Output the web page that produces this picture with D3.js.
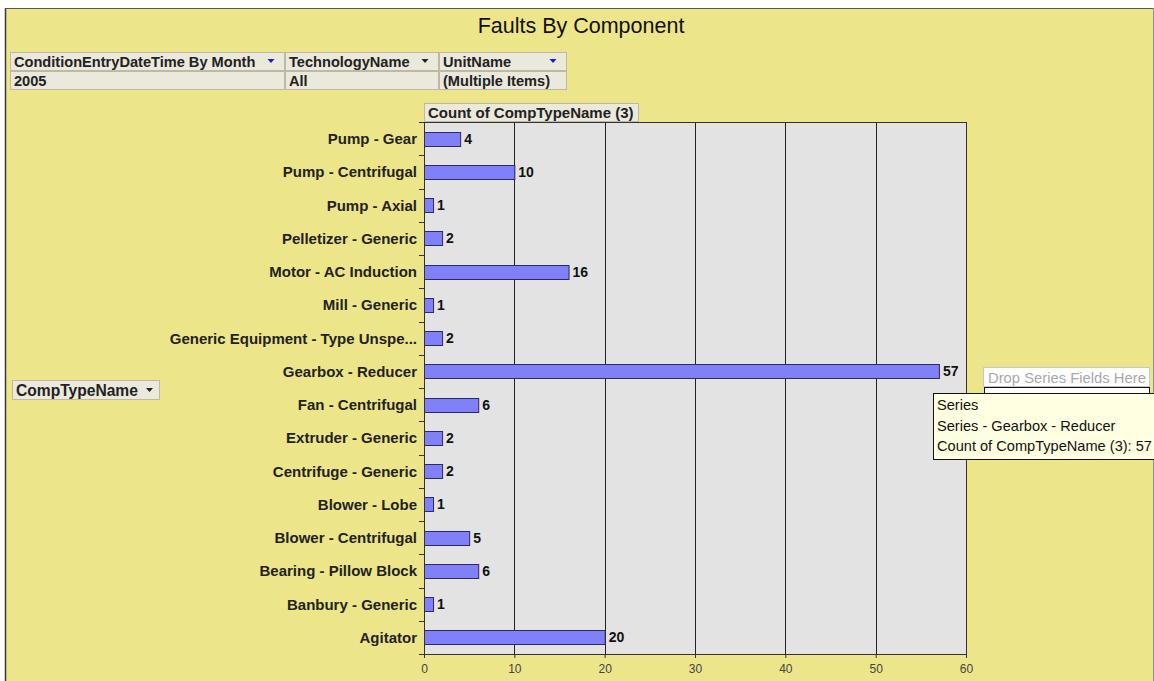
<!DOCTYPE html>
<html>
<head>
<meta charset="utf-8">
<script src="https://cdn.jsdelivr.net/npm/d3@7"></script>
<style>
  html, body { margin: 0; padding: 0; background: #ffffff; }
  svg { display: block; }
  text { font-family: "Liberation Sans", Arial, sans-serif; }
</style>
</head>
<body>
<svg id="chart" width="1154" height="681"></svg>
<script>
// Component categories (top to bottom) and their fault counts
const categories = [
  "Pump - Gear", "Pump - Centrifugal", "Pump - Axial", "Pelletizer - Generic",
  "Motor - AC Induction", "Mill - Generic", "Generic Equipment - Type Unspe...",
  "Gearbox - Reducer", "Fan - Centrifugal", "Extruder - Generic",
  "Centrifuge - Generic", "Blower - Lobe", "Blower - Centrifugal",
  "Bearing - Pillow Block", "Banbury - Generic", "Agitator"
];
const counts = [4, 10, 1, 2, 16, 1, 2, 57, 6, 2, 2, 1, 5, 6, 1, 20];
const xTicks = [0, 10, 20, 30, 40, 50, 60];

// Page filter fields
const filterFields = ["ConditionEntryDateTime By Month", "TechnologyName", "UnitName"];
const filterValues = ["2005", "All", "(Multiple Items)"];
const filterArrowColors = ["#1a1ad0", "#222222", "#1a1ad0"];

const tooltipLines = ["Series", "Series - Gearbox - Reducer", "Count of CompTypeName (3): 57"];

const svg = d3.select("#chart");
const W = 1154, H = 681;

// Panel background
svg.append("rect").attr("x", 0).attr("y", 0).attr("width", W).attr("height", H).attr("fill", "#ffffff");
svg.append("rect").attr("x", 6).attr("y", 8).attr("width", W - 7).attr("height", H - 8)
  .attr("fill", "#ede58a");
svg.append("line").attr("x1", 5.5).attr("x2", 5.5).attr("y1", 8).attr("y2", H)
  .attr("stroke", "#3a3a3a").attr("stroke-width", 1.5);
svg.append("line").attr("x1", 5).attr("x2", W).attr("y1", 8.5).attr("y2", 8.5)
  .attr("stroke", "#555555").attr("stroke-width", 1);
svg.append("line").attr("x1", W - 0.5).attr("x2", W - 0.5).attr("y1", 8).attr("y2", H)
  .attr("stroke", "#8a9a80").attr("stroke-width", 1);

// Title
svg.append("text").attr("x", 581).attr("y", 33).attr("text-anchor", "middle")
  .attr("font-size", 21.5).attr("fill", "#111").text("Faults By Component");

// Filter table
const colX = [10, 285, 439, 567];
const rowY = [52, 71, 90];
const ft = svg.append("g");
filterFields.forEach((f, i) => {
  const x0 = colX[i], x1 = colX[i + 1] - 1;
  ft.append("rect").attr("x", x0 + 0.5).attr("y", rowY[0] + 0.5)
    .attr("width", x1 - x0).attr("height", rowY[1] - rowY[0] - 1)
    .attr("fill", "#ebe8dc").attr("stroke", "#bdb9a4");
  ft.append("rect").attr("x", x0 + 0.5).attr("y", rowY[1] + 0.5)
    .attr("width", x1 - x0).attr("height", rowY[2] - rowY[1] - 1)
    .attr("fill", "#ebe8dc").attr("stroke", "#bdb9a4");
  ft.append("text").attr("x", x0 + 4).attr("y", rowY[0] + 14.5)
    .attr("font-size", 14.6).attr("font-weight", "bold").attr("fill", "#222").text(f);
  ft.append("text").attr("x", x0 + 4).attr("y", rowY[1] + 14.5)
    .attr("font-size", 14.6).attr("font-weight", "bold").attr("fill", "#222").text(filterValues[i]);
  const ax = x1 - 13, ay = rowY[0] + 7;
  ft.append("path").attr("d", `M${ax - 3.5},${ay} L${ax + 3.5},${ay} L${ax},${ay + 4} Z`)
    .attr("fill", filterArrowColors[i]);
});

// Row field button
const rb = svg.append("g");
rb.append("rect").attr("x", 12.5).attr("y", 380.5).attr("width", 147).attr("height", 19)
  .attr("fill", "#ebe8dc").attr("stroke", "#bdb9a4");
rb.append("text").attr("x", 16).attr("y", 396).attr("font-size", 15.6).attr("font-weight", "bold")
  .attr("fill", "#222").text("CompTypeName");
rb.append("path").attr("d", "M146,388 L153,388 L149.5,392 Z").attr("fill", "#222");

// Plot area
const plot = { left: 424, right: 966, top: 122, bottom: 654 };
const x = d3.scaleLinear().domain([0, 60]).range([plot.left, plot.right]);
const y = d3.scaleBand().domain(categories).range([plot.top, plot.bottom]);

// Data field button above the plot
svg.append("rect").attr("x", 424.5).attr("y", 103.5).attr("width", 214).attr("height", 18)
  .attr("fill", "#ebe8dc").attr("stroke", "#bdb9a4");
svg.append("text").attr("x", 428).attr("y", 117.5).attr("font-size", 15).attr("font-weight", "bold")
  .attr("fill", "#222").text("Count of CompTypeName (3)");

svg.append("rect").attr("x", plot.left).attr("y", plot.top)
  .attr("width", plot.right - plot.left).attr("height", plot.bottom - plot.top)
  .attr("fill", "#e3e3e3");

// Vertical gridlines
svg.append("g").selectAll("line").data(xTicks.slice(1)).join("line")
  .attr("x1", d => Math.round(x(d)) + 0.5).attr("x2", d => Math.round(x(d)) + 0.5)
  .attr("y1", plot.top).attr("y2", plot.bottom)
  .attr("stroke", "#222").attr("stroke-width", 1);

// Bars
const barH = 14;
svg.append("g").selectAll("rect").data(categories).join("rect")
  .attr("x", x(0) + 0.5)
  .attr("y", d => Math.round(y(d) + y.bandwidth() / 2 - barH / 2) + 0.5)
  .attr("width", (d, i) => x(counts[i]) - x(0))
  .attr("height", barH)
  .attr("fill", "#8080f8").attr("stroke", "#2a2a6a").attr("stroke-width", 1);

// Value labels
svg.append("g").selectAll("text").data(categories).join("text")
  .attr("x", (d, i) => x(counts[i]) + 4)
  .attr("y", d => y(d) + y.bandwidth() / 2 + 5)
  .attr("font-size", 14).attr("font-weight", "bold").attr("fill", "#111")
  .text((d, i) => counts[i]);

// Y axis with category boundary ticks
const yAxisG = svg.append("g");
yAxisG.append("line").attr("x1", plot.left + 0.5).attr("x2", plot.left + 0.5)
  .attr("y1", plot.top).attr("y2", plot.bottom + 4).attr("stroke", "#333");
const bounds = categories.map(c => y(c)).concat([plot.bottom]);
yAxisG.selectAll("line.tk").data(bounds).join("line").attr("class", "tk")
  .attr("x1", plot.left - 5).attr("x2", plot.left)
  .attr("y1", d => Math.round(d) + 0.5).attr("y2", d => Math.round(d) + 0.5)
  .attr("stroke", "#333");
yAxisG.selectAll("text").data(categories).join("text")
  .attr("x", plot.left - 7).attr("y", d => y(d) + y.bandwidth() / 2 + 5.5)
  .attr("text-anchor", "end").attr("font-size", 15).attr("font-weight", "bold")
  .attr("fill", "#222").text(d => d);

// X axis
const xAxis = d3.axisBottom(x).tickValues(xTicks).tickSize(4).tickSizeOuter(0);
const xg = svg.append("g").attr("transform", `translate(0,${plot.bottom})`).call(xAxis);
xg.select(".domain").attr("stroke", "#333");
xg.selectAll(".tick line").attr("stroke", "#333");
xg.selectAll(".tick text").attr("font-family", "Liberation Sans, Arial, sans-serif")
  .attr("font-size", 12).attr("fill", "#444").attr("y", 9).attr("dy", "0.8em");

// Top frame line of plot
svg.append("line").attr("x1", plot.left).attr("x2", plot.right + 0.5)
  .attr("y1", plot.top + 0.5).attr("y2", plot.top + 0.5).attr("stroke", "#333");
svg.append("line").attr("x1", plot.right + 0.5).attr("x2", plot.right + 0.5)
  .attr("y1", plot.top).attr("y2", plot.bottom).attr("stroke", "#333");

// Series drop zone
svg.append("rect").attr("x", 983.5).attr("y", 367.5).attr("width", 166).attr("height", 19)
  .attr("fill", "#ffffff").attr("stroke", "#c8c8c8");
svg.append("text").attr("x", 988).attr("y", 382.5).attr("font-size", 14.8).attr("fill", "#a8a8a8")
  .text("Drop Series Fields Here");
svg.append("rect").attr("x", 984.5).attr("y", 387.5).attr("width", 165).attr("height", 10)
  .attr("fill", "#ffffff").attr("stroke", "#111");

// Hover tooltip
const tip = svg.append("g");
tip.append("rect").attr("x", 933.5).attr("y", 393.5).attr("width", 230).attr("height", 66)
  .attr("fill", "#ffffe1").attr("stroke", "#111");
tip.selectAll("text").data(tooltipLines).join("text")
  .attr("x", 937).attr("y", (d, i) => 410 + i * 20.5)
  .attr("font-family", "DejaVu Sans, Tahoma, sans-serif")
  .attr("font-size", 14.6).attr("fill", "#111").text(d => d);
</script>
</body>
</html>
